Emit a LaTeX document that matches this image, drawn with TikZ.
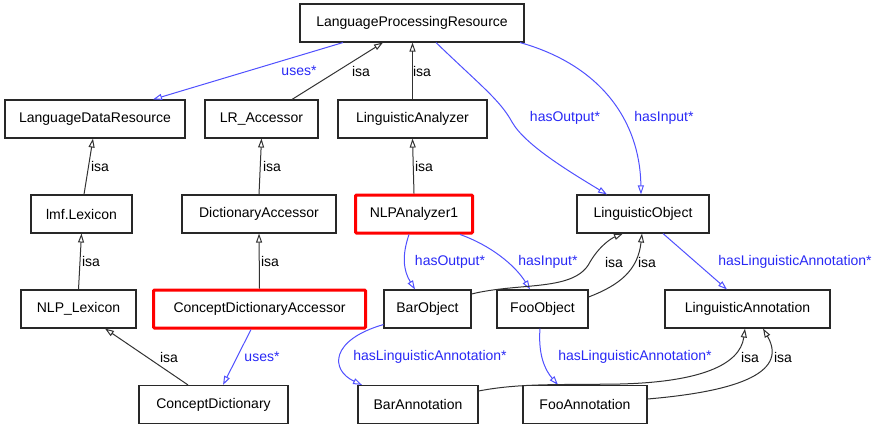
\documentclass[tikz,border=0pt]{standalone}
\usepackage{fontspec}
\setmainfont{Liberation Sans}
\usetikzlibrary{arrows.meta,calc}
\definecolor{edgeblue}{RGB}{80,80,255}
\definecolor{labelblue}{RGB}{40,40,245}
\definecolor{boxline}{RGB}{40,40,40}
\definecolor{isaline}{RGB}{50,50,50}
\tikzset{
  cls/.style={draw=boxline, line width=1.1pt, fill=white, minimum height=38pt,
              inner sep=0pt, font=\fontsize{14}{16}\selectfont},
  hilite/.style={cls, draw=red, line width=3pt, rounded corners=1pt},
  isa/.style={draw=isaline, line width=1pt, -{Triangle[open,length=9pt,width=6pt]}},
  rel/.style={draw=edgeblue, line width=1pt, -{Triangle[open,length=9pt,width=6pt]}},
  isalbl/.style={inner sep=0pt, font=\fontsize{14}{16}\selectfont, text=black},
  rellbl/.style={inner sep=0pt, font=\fontsize{14}{16}\selectfont, text=labelblue},
}
\begin{document}
\begin{tikzpicture}[x=1pt, y=-1pt]
\useasboundingbox (0,0) rectangle (877,425);

% classes
\node[cls, minimum width=224pt] (lpr)    at (412,23)    {LanguageProcessingResource};
\node[cls, minimum width=180pt] (ldr)    at (95,119)    {LanguageDataResource};
\node[cls, minimum width=113pt] (lra)    at (261.5,119) {LR\_Accessor};
\node[cls, minimum width=149pt] (la)     at (412.5,119) {LinguisticAnalyzer};
\node[cls, minimum width=101pt] (lmf)    at (81.5,214)  {lmf.Lexicon};
\node[cls, minimum width=154pt] (da)     at (259,214)   {DictionaryAccessor};
\node[hilite, minimum width=117pt] (nlp) at (414,214)   {NLPAnalyzer1};
\node[cls, minimum width=132pt] (lo)     at (643,214)   {LinguisticObject};
\node[cls, minimum width=115pt] (nlplex) at (78.5,309)  {NLP\_Lexicon};
\node[hilite, minimum width=212pt] (cda) at (259.5,309) {ConceptDictionaryAccessor};
\node[cls, minimum width=87pt]  (bar)    at (427.5,309) {BarObject};
\node[cls, minimum width=91pt]  (foo)    at (542.5,309) {FooObject};
\node[cls, minimum width=165pt] (lann)   at (747.5,309) {LinguisticAnnotation};
\node[cls, minimum width=149pt] (cd)     at (213.5,404.5) {ConceptDictionary};
\node[cls, minimum width=120pt] (bann)   at (418,404.5) {BarAnnotation};
\node[cls, minimum width=124pt] (fann)   at (585,404.5) {FooAnnotation};

% top level relations
\draw[rel] ([xshift=-69pt]lpr.south) -- ([xshift=58pt]ldr.north);
\draw[isa] ([xshift=30.5pt]lra.north) -- ([xshift=-29pt]lpr.south);
\draw[isa] (la.north) -- (la.north |- lpr.south);
\draw[rel] ([xshift=24pt]lpr.south) .. controls (480,85) and (500,100) .. (512,122)
           .. controls (525,145) and (570,172) .. ([xshift=-36pt]lo.north);
\draw[rel] ([xshift=108pt]lpr.south) .. controls (600,65) and (640,120) .. ([xshift=-2pt]lo.north);

% second level
\draw[isa] ([xshift=2.5pt]lmf.north) -- ([xshift=-2pt]ldr.south);
\draw[isa] (da.north) -- (lra.south);
\draw[isa] (nlp.north) -- (la.south);

% third level
\draw[isa] (nlplex.north) -- (lmf.south);
\draw[isa] (cda.north) -- (da.south);
\draw[rel] ([xshift=-5pt]nlp.south) .. controls (402,255) and (403,270) .. ([xshift=-12.5pt]bar.north);
\draw[rel] ([xshift=46pt]nlp.south) .. controls (490,245) and (515,265) .. ([xshift=-12.5pt]foo.north);
\draw[isa] ([yshift=15pt]bar.east) .. controls (520,282) and (575,292) .. (590,262)
           .. controls (600,245) and (612,238) .. ([xshift=-20pt]lo.south);
\draw[isa] ([yshift=12pt]foo.east) .. controls (620,285) and (638,270) .. ([xshift=-1pt]lo.south);
\draw[rel] ([xshift=20pt]lo.south) -- ([xshift=-20.5pt]lann.north);

% bottom level
\draw[isa] ([xshift=-25.5pt]cd.north) -- ([xshift=26.5pt]nlplex.south);
\draw[rel] ([xshift=-8.5pt]cda.south) -- ([xshift=9.5pt]cd.north);
\draw[rel] ([yshift=4pt]bar.south west) .. controls (330,340) and (330,370) .. ([xshift=-56pt]bann.north);
\draw[rel] ([xshift=-2.5pt]foo.south) .. controls (538,355) and (545,370) .. ([xshift=-27pt]fann.north);
\draw[isa] ([yshift=13.5pt]bann.east) .. controls (520,383) and (560,385) .. (620,384)
           .. controls (700,382) and (740,365) .. ([xshift=-2.5pt]lann.south);
\draw[isa] ([yshift=5.5pt]fann.east) .. controls (730,392) and (790,375) .. ([xshift=15.5pt]lann.south);

% edge labels
\node[rellbl] (t1)  at (299,71)  {uses*};
\node[isalbl] (t2)  at (361,71)  {isa};
\node[isalbl] (t3)  at (422,71)  {isa};
\node[rellbl] (t4)  at (565,118) {hasOutput*};
\node[rellbl] (t5)  at (664,118) {hasInput*};
\node[isalbl] (t6)  at (100,166) {isa};
\node[isalbl] (t7)  at (272,166) {isa};
\node[isalbl] (t8)  at (424,166) {isa};
\node[isalbl] (t9)  at (91,261)  {isa};
\node[isalbl] (t10) at (270,261) {isa};
\node[rellbl] (t11) at (450,262) {hasOutput*};
\node[rellbl] (t12) at (548,262) {hasInput*};
\node[isalbl] (t13) at (614,262) {isa};
\node[isalbl] (t14) at (647,262) {isa};
\node[rellbl] (t15) at (795,262) {hasLinguisticAnnotation*};
\node[isalbl] (t16) at (169,357) {isa};
\node[rellbl] (t17) at (262,357) {uses*};
\node[rellbl] (t18) at (430,357) {hasLinguisticAnnotation*};
\node[rellbl] (t19) at (635,357) {hasLinguisticAnnotation*};
\node[isalbl] (t20) at (750,357) {isa};
\node[isalbl] (t21) at (783,357) {isa};
\end{tikzpicture}
\end{document}
